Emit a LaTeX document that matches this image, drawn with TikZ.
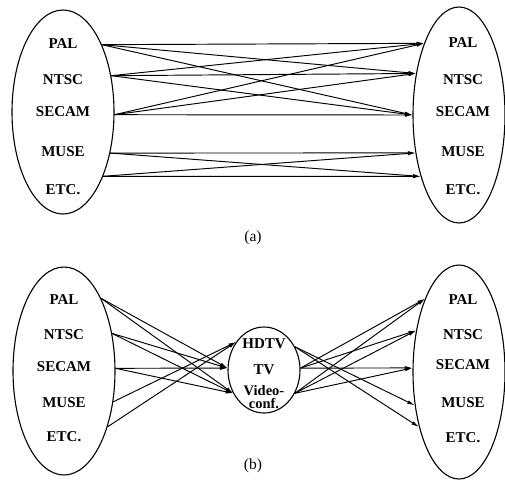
\documentclass[tikz,border=0pt]{standalone}
\usepackage{fontspec}
\setmainfont{Liberation Serif}
\usetikzlibrary{arrows.meta,shapes.geometric}

\begin{document}
\begin{tikzpicture}[
  x=1pt,y=-1pt,
  every node/.style={font=\fontsize{15.5}{14}\selectfont},
  fmt/.style={draw,ellipse,line width=1.1pt,inner sep=0pt},
  std/.style={inner sep=0pt,align=center,font=\fontsize{15}{14}\selectfont\bfseries},
  conv/.style={-{Latex[length=7.5pt,width=3.8pt]},line width=0.95pt}
]
  \useasboundingbox (0,0) rectangle (505,485);

  % (a) direct conversion between standards
  \node[fmt,minimum width=102pt,minimum height=204pt] (aL) at (63,112) {};
  \node[fmt,minimum width=92pt,minimum height=216pt] (aR) at (459,115) {};
  \node[std] (aLpal) at (63,44) {PAL};
  \node[std] (aLntsc) at (63,80) {NTSC};
  \node[std] (aLsecam) at (63,112) {SECAM};
  \node[std] (aLmuse) at (63,152) {MUSE};
  \node[std] (aLetc) at (63,190) {ETC.};
  \node[std] (aRpal) at (463,43) {PAL};
  \node[std] (aRntsc) at (463,80) {NTSC};
  \node[std] (aRsecam) at (463,112) {SECAM};
  \node[std] (aRmuse) at (463,152) {MUSE};
  \node[std] (aRetc) at (463,190) {ETC.};

  \draw[conv] (aL.60.8) -- (aR.116);
  \draw[conv] (aL.60.8) -- (aR.136.9);
  \draw[conv] (aL.60.8) -- (aR.180);
  \draw[conv] (aL.37.9) -- (aR.116);
  \draw[conv] (aL.37.9) -- (aR.136.9);
  \draw[conv] (aL.37.9) -- (aR.180);
  \draw[conv] (aL.-3.4) -- (aR.116);
  \draw[conv] (aL.-3.4) -- (aR.136.9);
  \draw[conv] (aL.-3.4) -- (aR.180);
  \draw[conv] (aL.-41.3) -- (aR.221.4);
  \draw[conv] (aL.-41.3) -- (aR.238.7);
  \draw[conv] (aL.-58.8) -- (aR.221.4);
  \draw[conv] (aL.-58.8) -- (aR.238.7);

  \node (capa) at (253,238) {(a)};

  % (b) conversion through a common format
  \node[fmt,minimum width=102pt,minimum height=208pt] (bL) at (64,371) {};
  \node[fmt,minimum width=72pt,minimum height=86pt] (bM) at (264,370) {};
  \node[fmt,minimum width=92pt,minimum height=214pt] (bR) at (459,372) {};
  \node[std] (bLpal) at (64,300) {PAL};
  \node[std] (bLntsc) at (64,335) {NTSC};
  \node[std] (bLsecam) at (64,367) {SECAM};
  \node[std] (bLmuse) at (64,403) {MUSE};
  \node[std] (bLetc) at (64,437) {ETC.};
  \node[std] (bMhdtv) at (264,344) {HDTV};
  \node[std] (bMtv) at (264,370) {TV};
  \node[std,font=\fontsize{14.5}{13}\selectfont\bfseries] (bMvid) at (264,397) {Video-\\conf.};
  \node[std] (bRpal) at (463,300) {PAL};
  \node[std] (bRntsc) at (463,335) {NTSC};
  \node[std] (bRsecam) at (463,365) {SECAM};
  \node[std] (bRmuse) at (463,403) {MUSE};
  \node[std] (bRetc) at (463,438) {ETC.};

  \draw[conv] (bL.63.6) -- (bM.177);
  \draw[conv] (bL.63.6) -- (bM.217.4);
  \draw[conv] (bL.38.7) -- (bM.177);
  \draw[conv] (bL.38.7) -- (bM.217.4);
  \draw[conv] (bL.3.4) -- (bM.177);
  \draw[conv] (bL.3.4) -- (bM.217.4);
  \draw[conv] (bL.-32.5) -- (bM.135.6);
  \draw[conv] (bL.-52.5) -- (bM.135.6);

  \draw[conv] (bM.3) -- (bR.115.3);
  \draw[conv] (bM.3) -- (bR.136.9);
  \draw[conv] (bM.3) -- (bR.175);
  \draw[conv] (bM.-37.4) -- (bR.115.3);
  \draw[conv] (bM.-37.4) -- (bR.136.9);
  \draw[conv] (bM.-37.4) -- (bR.175);
  \draw[conv] (bM.37.4) -- (bR.217);
  \draw[conv] (bM.37.4) -- (bR.234.3);

  \node (capb) at (253,466) {(b)};
\end{tikzpicture}
\end{document}
